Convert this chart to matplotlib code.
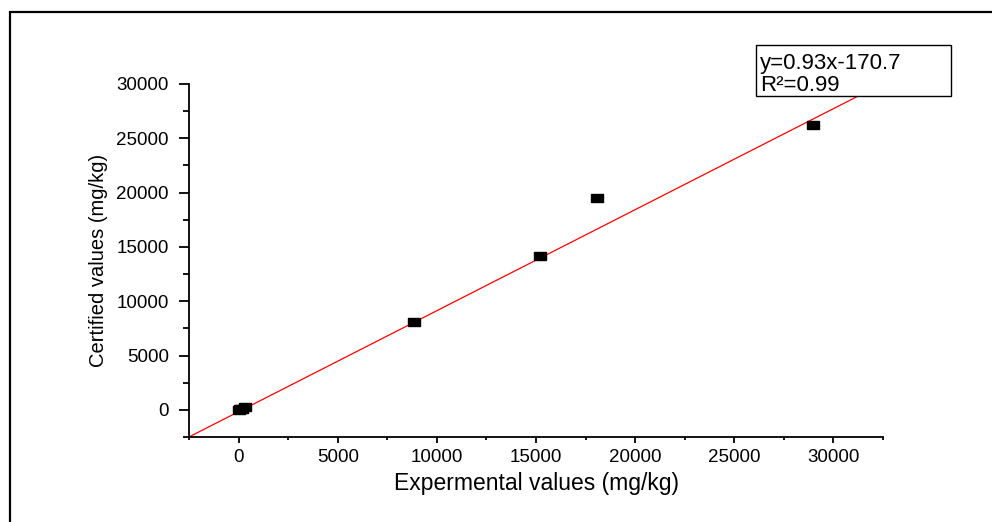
import numpy as np
import matplotlib
matplotlib.use('Agg')
import matplotlib.pyplot as plt
from matplotlib.patches import Rectangle
from matplotlib.ticker import MultipleLocator

plt.rcParams['font.family'] = ['Liberation Sans', 'DejaVu Sans']

# Data
exp_vals = [20, 80, 150, 310, 8860, 15210, 18080, 28950]
cert_vals = [10, 40, 100, 290, 8120, 14210, 19460, 26200]
slope = 0.93
intercept = -170.7
eq_text = 'y=0.93x-170.7\nR²=0.99'

fig = plt.figure(figsize=(9.92, 5.22), dpi=100)
ax = fig.add_axes([189/992, 1 - 437/522, (883 - 189)/992, (437 - 84)/522])

# wide rectangular markers like the original export
rect = [(-1.5, -1), (1.5, -1), (1.5, 1), (-1.5, 1), (-1.5, -1)]
ax.axline((0, intercept), slope=slope, color='red', lw=0.9, zorder=2)
ax.plot(exp_vals, cert_vals, ls='none', marker=rect, ms=8, color='black', zorder=3)

ax.set_xlim(-2500, 32500)
ax.set_ylim(-2500, 30000)
ax.xaxis.set_minor_locator(MultipleLocator(2500))
ax.yaxis.set_minor_locator(MultipleLocator(2500))
ax.set_xticks([0, 5000, 10000, 15000, 20000, 25000, 30000])
ax.set_yticks([0, 5000, 10000, 15000, 20000, 25000, 30000])

for s in ['top', 'right']:
    ax.spines[s].set_visible(False)
for s in ['left', 'bottom']:
    ax.spines[s].set_linewidth(1.3)

ax.tick_params(axis='x', which='major', direction='out', length=4, width=1.3, pad=5, labelsize=13.5)
ax.tick_params(axis='x', which='minor', direction='out', length=2.5, width=1.3)
ax.tick_params(axis='y', which='major', direction='out', length=7.5, width=1.3, pad=7, labelsize=13.5)
ax.tick_params(axis='y', which='minor', direction='out', length=4, width=1.3)

ax.set_xlabel('Expermental values (mg/kg)', fontsize=16.5, labelpad=4)
ax.set_ylabel('Certified values (mg/kg)', fontsize=14.5, labelpad=6)

# equation box
box = Rectangle((756/992, 1 - 96/522), 195/992, 51/522, transform=fig.transFigure,
                facecolor='white', edgecolor='black', lw=1.0, zorder=5)
fig.add_artist(box)
fig.text(760/992, 1 - 74.5/522, eq_text, fontsize=16, va='center', ha='left',
         linespacing=1.05, zorder=6)

# outer frame (cut off at right and bottom in the original)
frame = Rectangle((9.5/992, -0.1), 1.2, 1.1 - 12/522, transform=fig.transFigure,
                  facecolor='none', edgecolor='black', lw=1.6, zorder=1)
fig.add_artist(frame)

fig.savefig('out.png', dpi=100)
